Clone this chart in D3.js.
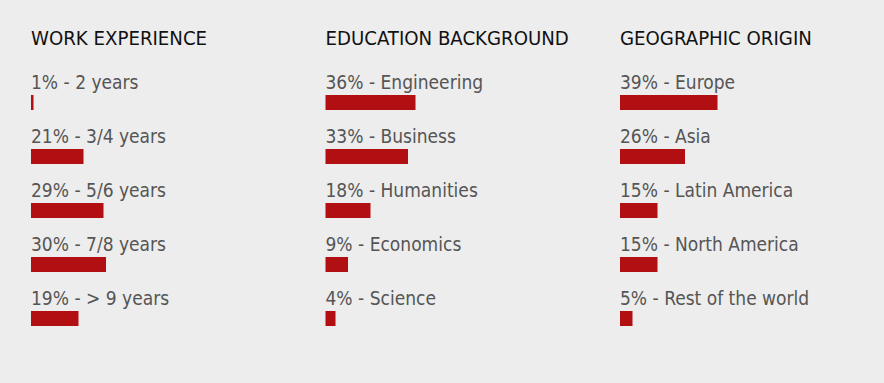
<!DOCTYPE html>
<html><head><meta charset="utf-8">
<script src="https://cdn.jsdelivr.net/npm/d3@7"></script>
<style>
html,body{margin:0;padding:0;background:#ededed;}
svg{display:block;}
</style></head>
<body>
<script>
const titles = ["WORK EXPERIENCE", "EDUCATION BACKGROUND", "GEOGRAPHIC ORIGIN"];
const workLabels = ["2 years", "3/4 years", "5/6 years", "7/8 years", "> 9 years"];
const workValues = [1, 21, 29, 30, 19];
const eduLabels = ["Engineering", "Business", "Humanities", "Economics", "Science"];
const eduValues = [36, 33, 18, 9, 4];
const geoLabels = ["Europe", "Asia", "Latin America", "North America", "Rest of the world"];
const geoValues = [39, 26, 15, 15, 5];

const W = 884, H = 383;
const font = "'Liberation Sans Narrow', 'DejaVu Sans Condensed', Arial, sans-serif";
const svg = d3.select("body").append("svg").attr("width", W).attr("height", H);
svg.append("rect").attr("width", W).attr("height", H).attr("fill", "#ededed");

const groups = [
  {title: titles[0], labels: workLabels, values: workValues},
  {title: titles[1], labels: eduLabels, values: eduValues},
  {title: titles[2], labels: geoLabels, values: geoValues}
];
const colX = d3.scalePoint().domain(d3.range(groups.length)).range([31, 620]);
const x = d3.scaleLinear().domain([0, 100]).range([0, 250]);
const y = d3.scaleBand().domain(d3.range(5)).range([68, 338]).paddingInner(0);

groups.forEach((g, gi) => {
  const col = svg.append("g").attr("transform", `translate(${colX(gi)},0)`);
  col.append("text").attr("x", 0).attr("y", 45)
    .attr("font-family", font).attr("font-size", 20.2).attr("fill", "#111")
    .text(g.title);
  const rows = col.selectAll("g.row").data(g.values).join("g").attr("class", "row")
    .attr("transform", (d, i) => `translate(0,${y(i)})`);
  rows.append("text").attr("x", 0).attr("y", 21)
    .attr("font-family", font).attr("font-size", 19).attr("fill", "#555")
    .text((d, i) => `${d}% - ${g.labels[i]}`);
  rows.append("rect").attr("x", 0).attr("y", 27)
    .attr("width", d => x(d)).attr("height", 15).attr("fill", "#b20f12");
});
</script>
</body></html>
